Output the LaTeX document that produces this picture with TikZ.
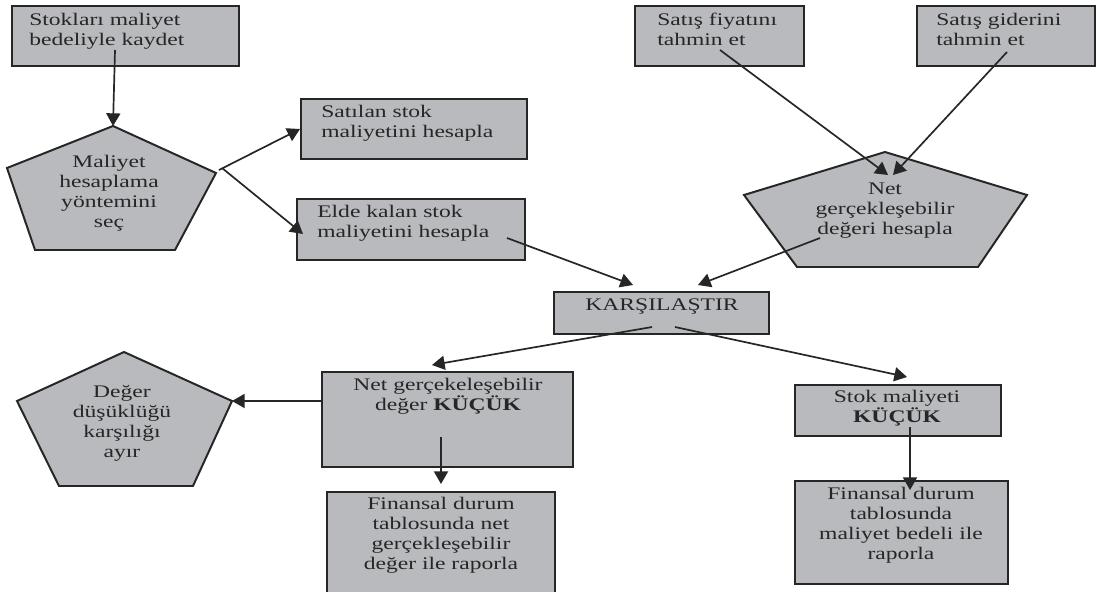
\documentclass[tikz,border=0pt]{standalone}
\usepackage{fontspec}
\setmainfont{Liberation Serif}[FakeStretch=1.33]
\usetikzlibrary{arrows.meta,fit}
\definecolor{kutu}{RGB}{185,186,190}
\definecolor{cizgi}{RGB}{38,38,38}
\begin{document}
\begin{tikzpicture}[x=0.025cm,y=-0.025cm,
    kutu/.style={draw=cizgi,fill=kutu,line width=1.4pt,inner sep=0pt},
    besgen/.style={draw=cizgi,fill=kutu,line width=1.4pt,line join=miter},
    yazi/.style={inner sep=0pt,text=cizgi,font=\fontsize{12.6}{14.2}\selectfont},
    ok/.style={draw=cizgi,line width=1.2pt,-{Triangle[length=9pt,width=10pt]}}]
    \path[use as bounding box,fill=white] (0,0) rectangle (1096,591);

    % kutular
    \node [kutu,fit={(12,6) (239,66)}] (kaydet) {};
    \node [kutu,fit={(301,99) (527,159)}] (satilan) {};
    \node [kutu,fit={(297,199) (525,260)}] (elde) {};
    \node [kutu,fit={(635,6) (804,66)}] (fiyat) {};
    \node [kutu,fit={(917,6) (1095,66)}] (gider) {};
    \node [kutu,fit={(554,292) (769,334)}] (karsi) {};
    \node [kutu,fit={(322,372) (573,467)}] (ngd) {};
    \node [kutu,fit={(795,385) (1001,436)}] (stok) {};
    \node [kutu,fit={(327,492) (555,600)}] (fin1) {};
    \node [kutu,fit={(795,481) (1008,584)}] (fin2) {};

    % besgenler
    \draw [besgen] (113,126) coordinate (sec-t) -- (216,173) coordinate (sec-r)
        -- (175,250) -- (35,250) -- (7,168) -- cycle;
    \draw [besgen] (885,152) coordinate (ngdh-t) -- (1027,195)
        -- (978,267) -- (797,267) -- (744,195) -- cycle;
    \draw [besgen] (124,352) coordinate (ayir-t) -- (232,401) coordinate (ayir-r)
        -- (193,486) -- (59,486) -- (17,401) -- cycle;

    % yazilar
    \node [yazi,align=left,anchor=north west] (kaydet-y) at (29,13) {Stokları maliyet\\bedeliyle kaydet};
    \node [yazi,align=left,anchor=north west] (satilan-y) at (321,105) {Satılan stok\\maliyetini hesapla};
    \node [yazi,align=left,anchor=north west] (elde-y) at (317,205) {Elde kalan stok\\maliyetini hesapla};
    \node [yazi,align=left,anchor=north west] (fiyat-y) at (657,13) {Satış fiyatını\\tahmin et};
    \node [yazi,align=left,anchor=north west] (gider-y) at (936,13) {Satış giderini\\tahmin et};
    \node [yazi,anchor=north] (karsi-y) at (662,298) {KARŞILAŞTIR};
    \node [yazi,align=center,anchor=north] (ngd-y) at (448,378) {Net gerçekeleşebilir\\değer \textbf{KÜÇÜK}};
    \node [yazi,align=center,anchor=north] (stok-y) at (897,390) {Stok maliyeti\\\textbf{KÜÇÜK}};
    \node [yazi,align=center,anchor=north] (fin1-y) at (441,497) {Finansal durum\\tablosunda net\\gerçekleşebilir\\değer ile raporla};
    \node [yazi,align=center,anchor=north] (fin2-y) at (901,487) {Finansal durum\\tablosunda\\maliyet bedeli ile\\raporla};
    \node [yazi,align=center] (sec) at (109,193) {Maliyet\\hesaplama\\yöntemini\\seç};
    \node [yazi,align=center] (ngdh) at (885,211) {Net\\gerçekleşebilir\\değeri hesapla};
    \node [yazi,align=center] (ayir) at (122,423) {Değer\\düşüklüğü\\karşılığı\\ayır};

    % oklar
    \coordinate (k1) at (115,50);
    \coordinate (s1) at (219,170);
    \coordinate (s2) at (222,168);
    \coordinate (e1) at (303,234);
    \coordinate (e2) at (507,238);
    \coordinate (f1) at (720,50);
    \coordinate (g1) at (1007,52);
    \coordinate (n1) at (888,175);
    \coordinate (n2) at (893,175);
    \coordinate (n3) at (820,238);
    \coordinate (c1) at (633,285);
    \coordinate (c2) at (698,285);
    \coordinate (c3) at (652,327);
    \coordinate (c4) at (675,327);
    \coordinate (d1) at (432,365);
    \coordinate (d2) at (441,437);
    \coordinate (d3) at (907,377);
    \coordinate (d4) at (910,427);
    \coordinate (d5) at (441,484);
    \coordinate (d6) at (910,490);

    \draw [ok] (k1) -- (sec-t);
    \draw [ok] (s1) -- (satilan.west);
    \draw [ok] (s2) -- (e1);
    \draw [ok] (f1) -- (n1);
    \draw [ok] (g1) -- (n2);
    \draw [ok] (e2) -- (c1);
    \draw [ok] (n3) -- (c2);
    \draw [ok] (c3) -- (d1);
    \draw [ok] (c4) -- (d3);
    \draw [ok] (ngd.west |- ayir-r) -- (ayir-r);
    \draw [ok] (d2) -- (d5);
    \draw [ok] (d4) -- (d6);
\end{tikzpicture}
\end{document}
